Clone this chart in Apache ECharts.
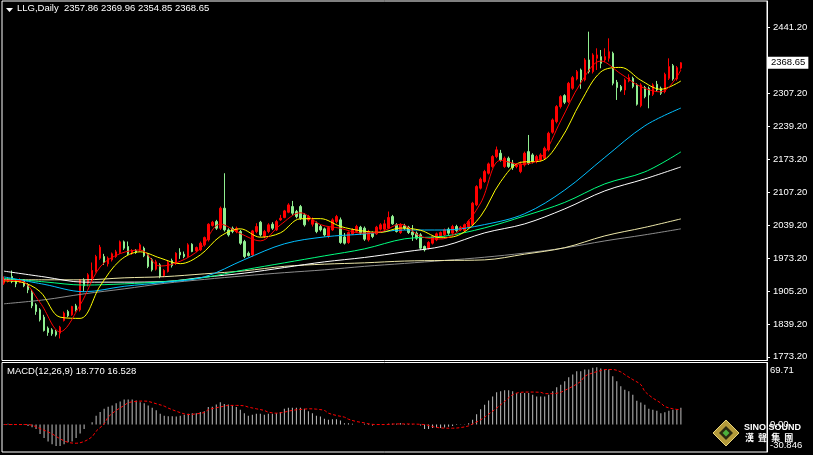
<!DOCTYPE html>
<html>
<head>
<meta charset="utf-8">
<script src="https://cdn.jsdelivr.net/npm/echarts@6/dist/echarts.min.js"></script>
<style>
html,body{margin:0;padding:0;background:#000;}
#chartLLG{width:813px;height:455px;}
</style>
</head>
<body>
<div id="chartLLG"></div>
<script>
// daily candles: [open, close, low, high]
var candles = [
 [1922.3,1930.4,1918.9,1935.8],[1925.7,1931.1,1923.7,1934.5],[1935.8,1925.7,1922.3,1948.0],[1929.0,1921.0,1914.2,1930.4],
 [1923.7,1929.0,1922.3,1932.4],[1929.0,1916.9,1914.2,1930.4],[1918.9,1908.8,1902.1,1922.3],[1903.4,1876.4,1871.7,1908.8],
 [1878.4,1864.9,1858.2,1881.8],[1868.3,1848.1,1844.7,1871.7],[1853.5,1826.5,1824.4,1858.2],[1831.2,1822.4,1815.7,1834.6],
 [1827.8,1819.7,1815.7,1831.2],[1824.4,1817.7,1814.3,1827.8],[1821.1,1833.2,1810.3,1835.9],[1846.7,1861.6,1844.7,1864.9],
 [1864.9,1856.2,1853.5,1868.3],[1858.2,1875.1,1856.2,1876.4],[1876.4,1868.3,1864.9,1880.4],[1868.3,1929.0,1864.9,1930.4],
 [1929.0,1916.9,1905.4,1932.4],[1922.3,1939.2,1915.6,1942.6],[1929.0,1948.0,1925.7,1964.2],[1945.9,1976.3,1943.9,1979.7],
 [1972.9,1995.2,1969.6,1999.9],[1976.3,1964.2,1959.4,1981.7],[1961.5,1972.9,1956.1,1976.3],[1969.6,1981.7,1966.2,1984.4],
 [1976.3,1985.7,1973.6,1989.8],[1984.4,2006.0,1981.7,2008.7],[2006.0,1993.2,1989.8,2008.7],[1996.6,1981.7,1979.0,2006.7],
 [1983.0,1988.4,1979.7,1991.2],[1988.4,1984.4,1981.7,1991.2],[1989.8,1999.9,1986.4,2003.3],[1993.2,1977.7,1975.0,1996.6],
 [1979.7,1956.1,1952.7,1983.0],[1969.6,1949.3,1945.9,1972.9],[1950.7,1965.5,1948.0,1969.6],[1959.4,1935.8,1932.4,1962.8],
 [1937.2,1948.0,1934.5,1950.7],[1945.9,1964.2,1943.9,1968.2],[1968.0,1958.0,1954.0,1972.0],[1962.8,1983.0,1959.4,1985.0],
 [1985.0,1979.6,1971.5,1993.1],[1981.0,1976.3,1972.9,1986.4],[1976.3,1999.9,1974.2,2003.2],[2001.2,1986.4,1985.0,2003.2],
 [1987.7,1994.5,1985.0,1996.5],[1989.8,2003.2,1987.7,2006.6],[1999.9,2014.7,1996.5,2016.7],[2010.0,2041.7,2006.6,2043.7],
 [2039.0,2045.8,2037.0,2048.5],[2047.1,2033.6,2030.2,2050.5],[2033.6,2074.1,2030.2,2077.5],[2074.1,2030.2,2026.9,2145.0],
 [2030.2,2020.1,2016.7,2033.6],[2033.6,2026.9,2023.5,2037.0],[2026.9,2033.6,2023.5,2037.0],[2026.9,2003.2,2000.0,2030.2],
 [2006.6,1976.3,1972.9,2010.0],[1983.0,1978.3,1976.3,1986.4],[1979.6,2028.2,1976.3,2030.2],[2026.9,2037.0,2023.5,2043.7],
 [2045.8,2020.1,2016.7,2048.5],[2016.7,2026.9,2013.4,2030.2],[2026.9,2040.4,2023.5,2043.7],[2041.7,2033.6,2030.2,2045.8],
 [2030.2,2047.1,2028.2,2050.5],[2050.5,2053.8,2048.5,2060.6],[2055.2,2068.7,2053.8,2070.7],[2066.0,2080.8,2064.0,2084.2],
 [2077.5,2064.0,2060.6,2088.9],[2067.3,2057.2,2053.8,2070.7],[2077.5,2053.8,2050.5,2080.8],[2060.6,2040.4,2037.0,2064.0],
 [2050.5,2057.2,2047.1,2060.6],[2041.7,2050.5,2037.0,2055.2],[2043.7,2026.9,2023.5,2047.1],[2037.0,2030.2,2026.9,2040.4],
 [2032.3,2020.1,2016.7,2035.0],[2016.7,2035.0,2013.4,2037.0],[2030.2,2050.5,2028.2,2053.8],[2047.1,2057.2,2043.7,2060.6],
 [2050.6,2004.7,2002.0,2055.3],[2016.0,2003.3,2000.5,2024.0],[2004.7,2024.9,2002.0,2027.0],[2022.2,2030.3,2020.2,2033.7],
 [2027.0,2037.1,2024.9,2040.5],[2035.7,2023.6,2020.2,2038.4],[2033.7,2011.4,2008.0,2037.1],[2010.1,2027.0,2006.7,2030.3],
 [2023.6,2016.8,2013.5,2027.0],[2022.2,2035.7,2020.2,2038.4],[2031.7,2040.5,2029.0,2043.8],[2031.7,2042.5,2029.0,2050.6],
 [2033.7,2055.3,2031.7,2067.4],[2057.3,2042.5,2040.5,2060.6],[2040.5,2027.0,2024.9,2043.8],[2024.9,2040.5,2022.2,2043.8],
 [2038.4,2033.7,2030.3,2042.5],[2035.7,2024.9,2022.0,2038.4],[2026.0,2020.2,2008.0,2040.0],[2023.6,2013.5,2010.1,2027.0],
 [2020.2,1993.2,1989.9,2023.6],[1996.6,1989.9,1986.5,1998.6],[1993.2,2004.7,1990.5,2007.4],[2003.3,2016.8,2000.6,2018.8],
 [2010.1,2022.2,2007.4,2024.9],[2016.8,2024.9,2013.5,2027.0],[2020.2,2030.3,2017.5,2033.0],[2031.7,2023.6,2020.2,2035.0],
 [2023.6,2037.1,2020.9,2040.5],[2037.1,2029.0,2026.3,2040.5],[2030.3,2035.7,2027.6,2038.4],[2029.0,2040.5,2026.3,2043.1],
 [2035.7,2047.2,2033.0,2050.6],[2040.5,2084.3,2038.4,2087.0],[2080.9,2118.0,2078.2,2120.7],[2114.7,2132.9,2112.0,2136.3],
 [2128.2,2148.4,2125.5,2151.8],[2145.0,2163.9,2142.3,2166.6],[2158.5,2178.8,2155.8,2181.5],[2178.8,2192.3,2175.4,2199.0],
 [2185.5,2172.0,2168.6,2192.3],[2158.5,2175.4,2155.8,2178.8],[2175.4,2158.5,2155.8,2178.8],[2165.2,2156.4,2151.7,2171.9],
 [2158.5,2161.8,2155.0,2165.0],[2148.3,2163.2,2145.0,2168.6],[2161.8,2185.5,2158.5,2188.8],[2188.8,2165.2,2162.0,2222.5],
 [2182.1,2168.6,2165.0,2185.5],[2168.6,2178.7,2165.2,2182.1],[2171.9,2182.1,2168.6,2185.5],[2175.3,2195.6,2172.0,2199.0],
 [2192.2,2225.9,2189.0,2229.0],[2228.0,2252.9,2225.0,2256.0],[2249.5,2279.9,2246.0,2283.0],[2279.9,2300.1,2276.0,2303.0],
 [2302.2,2288.7,2285.0,2305.0],[2290.0,2327.1,2287.0,2330.0],[2317.0,2338.6,2314.0,2342.0],[2335.9,2350.7,2333.0,2354.0],
 [2354.1,2333.9,2316.0,2357.0],[2333.9,2374.4,2331.0,2378.0],[2374.4,2350.7,2347.0,2431.7],[2350.7,2384.5,2347.0,2388.0],
 [2377.7,2384.5,2354.1,2398.0],[2381.1,2367.6,2357.5,2394.6],[2374.4,2381.1,2370.0,2398.0],[2377.7,2391.2,2371.0,2418.2],
 [2387.9,2327.1,2323.0,2391.2],[2329.2,2318.4,2293.4,2333.9],[2320.4,2313.6,2310.3,2323.8],[2313.6,2333.9,2303.5,2337.2],
 [2331.9,2338.6,2329.2,2345.3],[2337.2,2320.4,2317.0,2340.5],[2323.8,2284.6,2281.9,2327.1],[2281.9,2323.8,2278.5,2327.1],
 [2318.4,2300.1,2296.8,2321.8],[2317.0,2303.5,2276.5,2320.4],[2304.9,2323.8,2301.5,2327.1],[2325.1,2313.6,2310.3,2331.9],
 [2317.0,2306.9,2303.5,2320.4],[2310.3,2345.3,2306.9,2348.7],[2337.2,2360.9,2333.9,2377.7],[2362.9,2335.9,2332.5,2366.3],
 [2335.9,2358.8,2332.5,2362.2],[2357.86,2368.65,2354.85,2369.96]
];

// moving averages: [candle index, value]
var ma5 = [[0,1928],[4,1927.4],[9,1883.0],[14,1823.9],[19,1878.0],[24,1955.1],[29,1982.1],[34,1989.5],[39,1956.9],
 [44,1966.6],[49,1992.1],[54,2042.0],[59,2022.8],[64,2008.0],[69,2040.4],[74,2064.9],[79,2041.0],[84,2033.5],[89,2023.8],
 [94,2026.3],[99,2041.6],[104,2017.1],[109,2011.7],[114,2031.1],[119,2084.6],[124,2171.1],[129,2163.1],[134,2176.0],
 [139,2250.9],[144,2327.8],[149,2372.3],[154,2346.3],[159,2320.3],[164,2309.6],[169,2353.9]];
var ma10 = [[0,1927],[4,1925],[9,1905.2],[14,1853.5],[19,1851.0],[24,1916.6],[29,1968.6],[34,1985.8],[39,1973.2],
 [44,1961.8],[49,1979.4],[54,2017.1],[59,2032.4],[64,2015.4],[69,2024.2],[74,2052.7],[79,2053.0],[84,2037.3],[89,2028.7],
 [94,2025.1],[99,2034.0],[104,2029.4],[109,2014.4],[114,2021.4],[119,2057.9],[124,2127.9],[129,2167.1],[134,2169.6],
 [139,2213.5],[144,2289.4],[149,2350.1],[154,2359.3],[159,2333.3],[164,2315.0],[169,2331.8]];
var maIdx = [0,10,20,30,40,50,60,70,80,90,100,110,120,130,140,150,160,169];
var maBlue  = [1935,1920,1905,1916,1924,1935,1970,2002,2016,2022,2030,2030,2041,2063,2111,2177,2241,2277];
var maGreen = [1932.1,1925.0,1918.5,1920.9,1925.4,1933.7,1949.3,1963.5,1977.6,1991.8,2012.1,2017.5,2034.3,2058.6,2085.9,2123.4,2147.7,2188.2];
var maWhite = [1946.7,1935.1,1924.4,1924.4,1925.6,1934.5,1942.6,1954.0,1965.5,1974.4,1985.7,1997.9,2024.2,2042.4,2072.8,2109.2,2133.5,2157.8];
var maKhaki = [1929.1,1929.1,1929.1,1933.1,1935.5,1941.2,1947.3,1956.4,1960.8,1963.5,1967.1,1968.3,1969.5,1981.1,1994.2,2018.1,2035.3,2052.5];
var maGray  = [1880.5,1888.6,1900.7,1910.8,1921.8,1929.9,1937.2,1943.6,1949.3,1956.4,1962.3,1968.3,1974.9,1983.3,1993.8,2007.9,2020.2,2032.3];

// MACD(12,26,9) histogram per candle and signal line
var macdHist = [
 0.5,0.8,0.5,0,0.3,-0.5,-1.5,
 -3,-5,-10.5,-15,-19,-22,-24,-24,-22,-20,
 -19,-15,-10,-5,0,2.6,10,14,17.7,20,
 21.5,24,26,28,28,28,27,25,24,21.5,
 19,16,12,10,9.4,9.4,9,10,11,12,
 12.8,12.8,14,15,19.6,20,22.6,25,23,22.6,
 21.5,19.6,16.6,12.8,10,11,12,12,11,12,
 12,12.8,14,17.7,19,19,19,19,17.7,15,
 12.8,10,9,6.4,5.3,6,6,4.5,1.5,1.5,
 0.8,0,0,0.8,0.8,-1,0,0,0,0.8,
 0.8,0.8,1.5,
 0.5,0.5,0.3,0,-1,-5,-5,-4,-3.4,-4,
 -3.4,-2.6,-1.5,-0.5,-0.3,0.4,1.5,5.3,11.7,17.3,
 22.2,27.1,31.6,36.2,37.3,38.4,38.4,37.3,35.4,35.4,
 35.4,35.4,33.5,31.6,31.6,31.6,33.5,37.3,41.8,44.8,
 48.6,53.1,56.1,59.9,59.9,61.8,61.8,63.7,64.4,62.9,
 61.8,61.8,54.2,48.6,42.9,39.2,37.3,33.5,26.7,24.9,
 22.2,17.7,16.6,15.4,12.8,13.9,15.4,16.6,16.6,18.77
];
var macdSignal = [[0,0],[6,0],[9,-4.5],[12,-10.5],[14,-16],[16,-20],[18,-21],[20,-19],[22,-13.6],[23,-7.5],[25,0.8],
 [26,8.3],[28,15.8],[30,21.5],[31,24.5],[33,26],[35,26.4],[36,26],[38,23.4],[40,20.7],[41,18.5],[43,15],[45,12],[46,11.3],
 [48,12],[50,13.6],[51,16.6],[53,18.8],[55,20.7],[56,21.5],[58,21.5],[60,21],[61,19.6],[63,17.7],[65,15.8],[66,13.9],
 [68,12.8],[70,13.9],[71,15],[73,16.6],[75,17.3],[76,17.7],[78,17.3],[80,15.8],[81,12.8],[83,10.2],[85,8.3],[86,6],
 [88,3.4],[90,1.9],[91,0.8],[93,0],[95,0],[98,0.7],[105,0],[107,-2.3],[109,-3.8],[112,-4.1],[114,-3.4],[116,-1.5],
 [117,0.8],[119,5.3],[121,11.7],[123,18.5],[125,26],[127,33.5],[129,36.2],[131,36.5],[134,36.2],[135,34.7],[137,34.7],
 [139,36.2],[140,38.4],[142,42.9],[144,48.6],[145,54.2],[147,58],[149,60.6],[150,61.8],[152,61.8],[154,59.1],[155,56.1],
 [157,50.5],[159,44.8],[160,37.3],[162,29.8],[164,24.1],[165,20.3],[167,17.7],[169,16.53]];

var priceTicks = [1773.2,1839.2,1905.2,1973.2,2039.2,2107.2,2173.2,2239.2,2307.2,2441.2];
var macdTicks = [-30.846,0,69.71];
var macdTickText = ['-30.846','0.00','69.71'];
var slots = 191; // chart width in bars, incl. empty space on the right

var cats = [];
for (var i = 0; i < slots; i++) { cats.push(String(i + 1)); }
function pairs(idx, vals) {
    var out = [];
    for (var k = 0; k < idx.length; k++) { out.push([idx[k], vals[k]]); }
    return out;
}
var last = candles[candles.length - 1];
var font = 'Liberation Sans';

var myChart = echarts.init(document.getElementById('chartLLG'));
function maLine(name, data, color) {
    return {
        name: name, type: 'line', xAxisIndex: 0, yAxisIndex: 0,
        data: data, showSymbol: false, smooth: 0.35, silent: true,
        lineStyle: { color: color, width: 1 }, z: 3
    };
}
var option = {
    backgroundColor: '#000',
    animation: false,
    grid: [
        { left: 2, top: 1, width: 765, height: 359.5, show: true, borderColor: '#fff', borderWidth: 1 },
        { left: 2, top: 362.5, width: 765, height: 89.5, show: true, borderColor: '#fff', borderWidth: 1 }
    ],
    xAxis: [
        { type: 'category', gridIndex: 0, data: cats, boundaryGap: true,
          axisLine: { show: false }, axisTick: { show: false }, axisLabel: { show: false }, splitLine: { show: false } },
        { type: 'category', gridIndex: 1, data: cats, boundaryGap: true,
          axisLine: { show: false }, axisTick: { show: false }, axisLabel: { show: false }, splitLine: { show: false } }
    ],
    yAxis: [
        { type: 'value', gridIndex: 0, position: 'right', min: 1765.7, max: 2493.8,
          axisLine: { show: true, lineStyle: { color: '#fff' } },
          axisTick: { show: true, length: 3, customValues: priceTicks, lineStyle: { color: '#fff' } },
          axisLabel: { customValues: priceTicks, margin: 6, color: '#fff', fontSize: 9.5, fontFamily: font,
                       formatter: function (v) { return v.toFixed(2); } },
          splitLine: { show: false } },
        { type: 'value', gridIndex: 1, position: 'right', min: -30.846, max: 69.71,
          axisLine: { show: true, lineStyle: { color: '#fff' } },
          axisTick: { show: false },
          axisLabel: { customValues: macdTicks, margin: 3, color: '#fff', fontSize: 9.5, fontFamily: font,
                       formatter: function (v) {
                           var k = macdTicks.indexOf(v);
                           var txt = k >= 0 ? macdTickText[k] : v.toFixed(2);
                           if (v > 50) return '{t|' + txt + '}';
                           if (v < -20) return '{b|' + txt + '}';
                           return '{m|' + txt + '}';
                       },
                       rich: {
                           t: { padding: [15, 0, 0, 0], color: '#fff', fontSize: 9.5, fontFamily: font },
                           b: { padding: [0, 0, 13, 0], color: '#fff', fontSize: 9.5, fontFamily: font },
                           m: { color: '#fff', fontSize: 9.5, fontFamily: font }
                       } },
          splitLine: { show: false } }
    ],
    series: [
        {
            name: 'LLG', type: 'candlestick', xAxisIndex: 0, yAxisIndex: 0,
            data: candles, barWidth: 2, clip: false,
            itemStyle: { color: '#ff0000', color0: '#90ee90', borderColor: '#ff0000', borderColor0: '#90ee90', borderWidth: 1 },
            markLine: {
                symbol: 'none', silent: true, animation: false,
                lineStyle: { color: 'rgba(0,0,0,0)', width: 0 },
                label: { show: true, position: 'end', distance: 1, formatter: last[1].toFixed(2), color: '#000',
                         backgroundColor: '#fff', padding: [1, 3, 1, 3], fontSize: 9.5, fontFamily: font },
                data: [{ yAxis: last[1] }]
            },
            z: 2
        },
        maLine('MA gray', pairs(maIdx, maGray), '#8c8c8c'),
        maLine('MA khaki', pairs(maIdx, maKhaki), '#eee8aa'),
        maLine('MA white', pairs(maIdx, maWhite), '#ffffff'),
        maLine('MA green', pairs(maIdx, maGreen), '#00ff7f'),
        maLine('MA blue', pairs(maIdx, maBlue), '#00bfff'),
        maLine('MA10', ma10, '#ffff00'),
        maLine('MA5', ma5, '#ff0000'),
        {
            name: 'MACD', type: 'bar', xAxisIndex: 1, yAxisIndex: 1,
            data: macdHist, barWidth: 1, silent: true,
            itemStyle: { color: '#c0c0c0' }
        },
        {
            name: 'Signal', type: 'line', xAxisIndex: 1, yAxisIndex: 1,
            data: macdSignal, showSymbol: false, smooth: 0.35, silent: true,
            lineStyle: { color: '#ff0000', width: 1, type: [3, 2] }, z: 4
        }
    ],
    graphic: [
        { type: 'polygon', left: 6, top: 8, shape: { points: [[0, 0], [7, 0], [3.5, 4]] }, style: { fill: '#fff' } },
        { type: 'text', left: 17, top: 3,
          style: { text: 'LLG,Daily  ' + last[0].toFixed(2) + ' ' + last[3].toFixed(2) + ' ' + last[2].toFixed(2) + ' ' + last[1].toFixed(2),
                   fill: '#fff', font: '9.5px "Liberation Sans"' } },
        { type: 'text', left: 7, top: 366,
          style: { text: 'MACD(12,26,9) 18.770 16.528', fill: '#fff', font: '9.5px "Liberation Sans"' } },
        // SINO SOUND logo
        { type: 'polygon', z: 20, shape: { points: [[726, 420], [739, 433], [726, 446], [713, 433]] },
          style: { fill: '#b39a3a', stroke: '#e6d27a', lineWidth: 1 } },
        { type: 'polygon', z: 21, shape: { points: [[726, 426], [733, 433], [726, 440], [719, 433]] },
          style: { fill: '#2b2a10' } },
        { type: 'polygon', z: 22, shape: { points: [[726, 429.5], [729.5, 433], [726, 436.5], [722.5, 433]] },
          style: { fill: '#4caf3c' } },
        { type: 'text', z: 20, left: 744, top: 423,
          style: { text: 'SINO SOUND', fill: '#fff', font: 'bold 9px "Liberation Sans"' } },
        { type: 'text', z: 20, left: 745, top: 433,
          style: { text: '漢  聲  集  團', fill: '#fff', font: 'bold 9px "Noto Sans CJK TC"' } }
    ]
};
myChart.setOption(option);
window.onresize = function () {
    myChart.resize();
};
</script>
</body>
</html>
